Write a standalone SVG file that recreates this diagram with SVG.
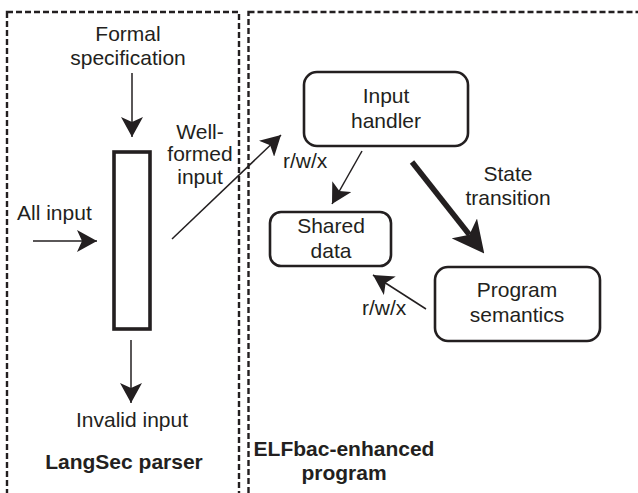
<svg xmlns="http://www.w3.org/2000/svg" width="638" height="493" viewBox="0 0 638 493">
  <defs>
    <style>
      .frame { fill: none; stroke: #231f20; stroke-width: 2.4; stroke-dasharray: 6 3; }
      .box { fill: #ffffff; stroke: #231f20; stroke-width: 2.6; }
      .parser { fill: #ffffff; stroke: #231f20; stroke-width: 3.6; }
      .t { font-family: "Liberation Sans", Arial, Helvetica, sans-serif; font-size: 21px; fill: #231f20; }
      .b { font-weight: bold; }
      .c { text-anchor: middle; }
      .wire { fill: none; stroke: #231f20; stroke-width: 1.5; }
      .heavy { fill: none; stroke: #231f20; stroke-width: 5.5; }
    </style>
    <marker id="arrow" markerUnits="userSpaceOnUse" markerWidth="20" markerHeight="22" refX="20" refY="11" orient="auto">
      <path d="M0,0 L20,11 L0,22 L5,11 Z" fill="#231f20"/>
    </marker>
    <marker id="arrow-heavy" markerUnits="userSpaceOnUse" markerWidth="32" markerHeight="32" refX="8" refY="16" orient="auto">
      <path d="M0,0 L32,16 L0,32 L8,16 Z" fill="#231f20"/>
    </marker>
  </defs>

  <rect width="638" height="493" fill="#ffffff"/>

  <!-- dashed regions -->
  <g id="region-parser">
    <rect class="frame" x="7" y="12" width="232" height="500"/>
    <text class="t b c" x="124" y="469">LangSec parser</text>
  </g>
  <g id="region-program">
    <rect class="frame" x="248.5" y="12" width="420" height="500"/>
    <text class="t b c" x="344" y="456">ELFbac-enhanced</text>
    <text class="t b c" x="344" y="480">program</text>
  </g>

  <!-- parser -->
  <g id="parser">
    <rect class="parser" x="114" y="152" width="36" height="177"/>
  </g>

  <g id="formal-spec">
    <text class="t c" x="128" y="41">Formal</text>
    <text class="t c" x="128" y="65">specification</text>
  </g>

  <g id="all-input">
    <text class="t" x="17" y="220">All input</text>
  </g>

  <g id="invalid-input">
    <text class="t c" x="132" y="427">Invalid input</text>
  </g>

  <g id="input-handler">
    <rect class="box" x="304" y="72" width="164" height="74" rx="13"/>
    <text class="t c" x="386" y="103">Input</text>
    <text class="t c" x="386" y="128">handler</text>
  </g>

  <g id="shared-data">
    <rect class="box" x="270" y="212" width="121" height="54" rx="11"/>
    <text class="t c" x="331" y="233">Shared</text>
    <text class="t c" x="331" y="258">data</text>
  </g>

  <g id="program-semantics">
    <rect class="box" x="435" y="267" width="165" height="74" rx="13"/>
    <text class="t c" x="517" y="297">Program</text>
    <text class="t c" x="517" y="322">semantics</text>
  </g>

  <!-- connectors -->
  <g id="connectors">
    <line class="wire" x1="132" y1="73" x2="132" y2="137" marker-end="url(#arrow)"/>
    <line class="wire" x1="33" y1="241" x2="97" y2="241" marker-end="url(#arrow)"/>
    <line class="wire" x1="131" y1="340" x2="131" y2="403" marker-end="url(#arrow)"/>
    <line class="wire" x1="172" y1="239" x2="281" y2="135" marker-end="url(#arrow)"/>
    <line class="wire" x1="362" y1="151" x2="332" y2="204" marker-end="url(#arrow)"/>
    <line class="wire" x1="426" y1="309" x2="373" y2="275" marker-end="url(#arrow)"/>
    <line class="heavy" x1="412" y1="162" x2="469.4" y2="234.7" marker-end="url(#arrow-heavy)"/>

    <text class="t c" x="200" y="139">Well-</text>
    <text class="t c" x="200" y="161">formed</text>
    <text class="t c" x="200" y="184">input</text>
    <text class="t" x="283" y="168">r/w/x</text>
    <text class="t c" x="508" y="181">State</text>
    <text class="t c" x="508" y="205">transition</text>
    <text class="t" x="362" y="315">r/w/x</text>
  </g>
</svg>
